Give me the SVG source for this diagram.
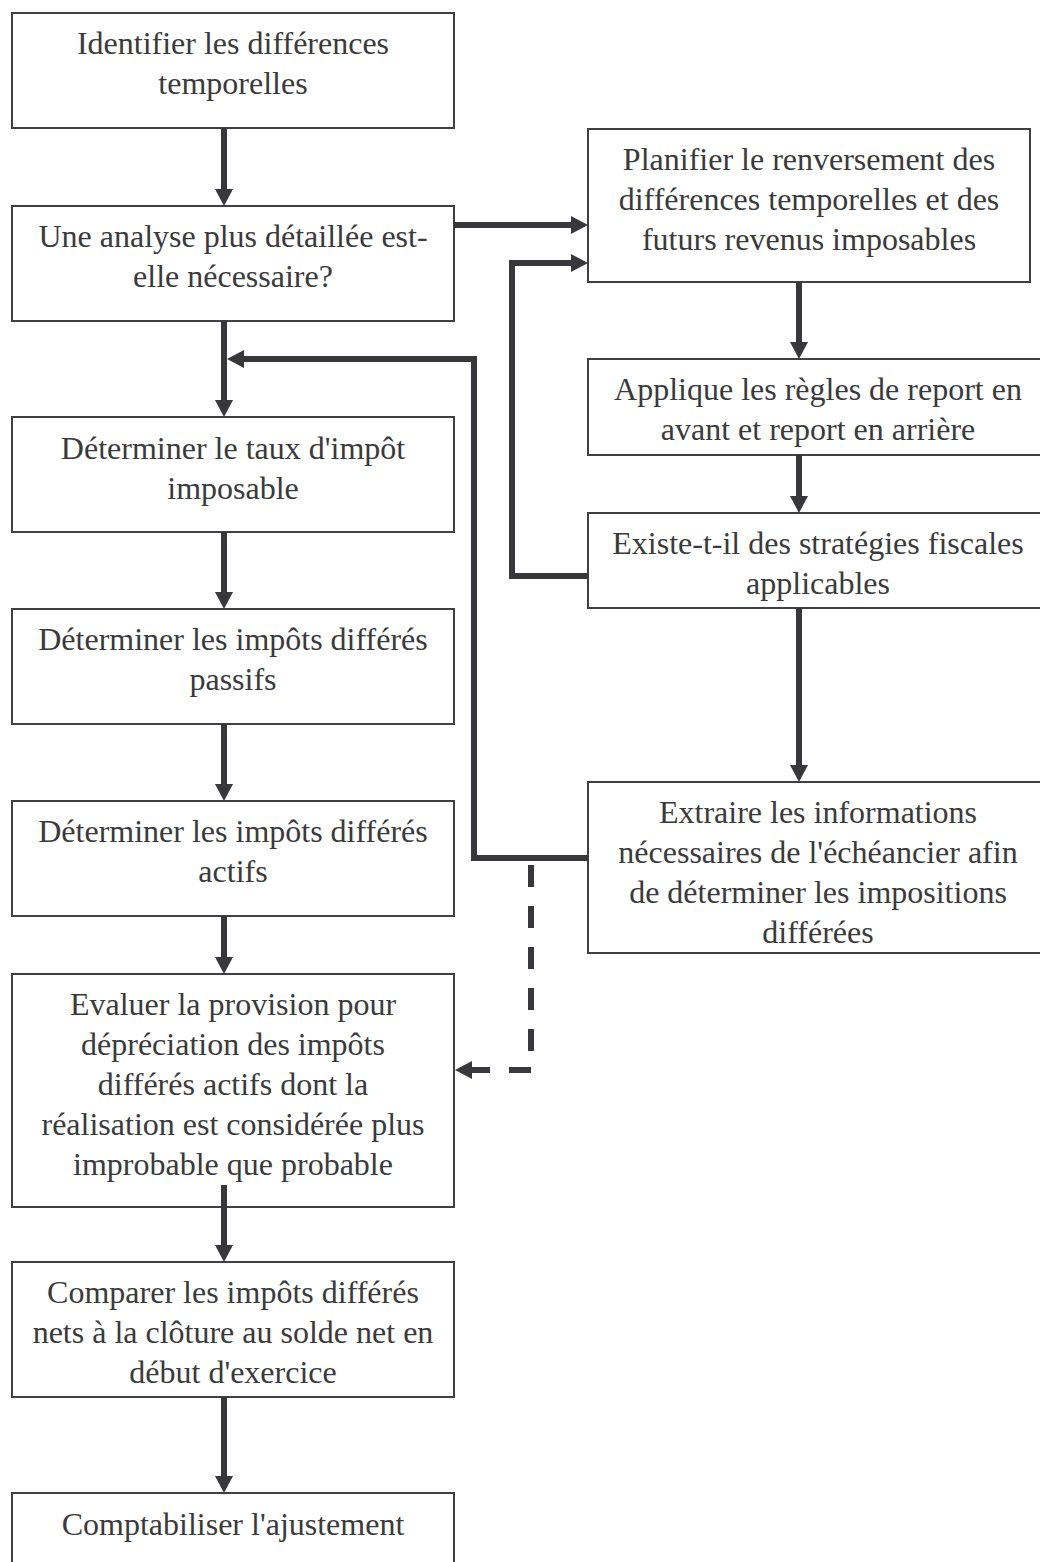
<svg xmlns="http://www.w3.org/2000/svg" width="1040" height="1562" viewBox="0 0 1040 1562">
  <defs>
    <style>
      .box { fill: #ffffff; stroke: #404042; stroke-width: 2; }
      .lbl { font-family: "Liberation Serif", "Times New Roman", serif; font-size: 32px; fill: #3a3a3c; text-anchor: middle; }
      .flow { fill: none; stroke: #38383c; stroke-width: 6; stroke-linejoin: miter; }
      .dash { stroke-dasharray: 22 19; }
    </style>
    <!-- arrowhead: base sits on the line end, tip points forward -->
    <marker id="head" viewBox="0 0 17 18" refX="0" refY="9" markerWidth="17" markerHeight="18" markerUnits="userSpaceOnUse" orient="auto">
      <path d="M0,0 L17,9 L0,18 Z" fill="#38383c"/>
    </marker>
  </defs>

  <rect width="1040" height="1562" fill="#ffffff"/>

  <!-- left column nodes -->
  <g id="n-identifier">
    <rect class="box" x="12" y="13" width="442" height="115"/>
    <text class="lbl" x="233" y="54">Identifier les différences</text>
    <text class="lbl" x="233" y="94">temporelles</text>
  </g>
  <g id="n-analyse">
    <rect class="box" x="12" y="206" width="442" height="115"/>
    <text class="lbl" x="233" y="247">Une analyse plus détaillée est-</text>
    <text class="lbl" x="233" y="287">elle nécessaire?</text>
  </g>
  <g id="n-taux">
    <rect class="box" x="12" y="417" width="442" height="115"/>
    <text class="lbl" x="233" y="459">Déterminer le taux d'impôt</text>
    <text class="lbl" x="233" y="499">imposable</text>
  </g>
  <g id="n-passifs">
    <rect class="box" x="12" y="609" width="442" height="115"/>
    <text class="lbl" x="233" y="650">Déterminer les impôts différés</text>
    <text class="lbl" x="233" y="690">passifs</text>
  </g>
  <g id="n-actifs">
    <rect class="box" x="12" y="801" width="442" height="115"/>
    <text class="lbl" x="233" y="842">Déterminer les impôts différés</text>
    <text class="lbl" x="233" y="882">actifs</text>
  </g>
  <g id="n-evaluer">
    <rect class="box" x="12" y="974" width="442" height="233"/>
    <text class="lbl" x="233" y="1015">Evaluer la provision pour</text>
    <text class="lbl" x="233" y="1055">dépréciation des impôts</text>
    <text class="lbl" x="233" y="1095">différés actifs dont la</text>
    <text class="lbl" x="233" y="1135">réalisation est considérée plus</text>
    <text class="lbl" x="233" y="1175">improbable que probable</text>
  </g>
  <g id="n-comparer">
    <rect class="box" x="12" y="1262" width="442" height="135"/>
    <text class="lbl" x="233" y="1303">Comparer les impôts différés</text>
    <text class="lbl" x="233" y="1343">nets à la clôture au solde net en</text>
    <text class="lbl" x="233" y="1383">début d'exercice</text>
  </g>
  <g id="n-comptabiliser">
    <rect class="box" x="12" y="1493" width="442" height="115"/>
    <text class="lbl" x="233" y="1535">Comptabiliser l'ajustement</text>
  </g>

  <!-- right column nodes -->
  <g id="n-planifier">
    <rect class="box" x="588" y="129" width="442" height="153"/>
    <text class="lbl" x="809" y="170">Planifier le renversement des</text>
    <text class="lbl" x="809" y="210">différences temporelles et des</text>
    <text class="lbl" x="809" y="250">futurs revenus imposables</text>
  </g>
  <g id="n-applique">
    <rect class="box" x="588" y="359" width="462" height="96"/>
    <text class="lbl" x="818" y="400">Applique les règles de report en</text>
    <text class="lbl" x="818" y="440">avant et report en arrière</text>
  </g>
  <g id="n-existe">
    <rect class="box" x="588" y="513" width="462" height="95"/>
    <text class="lbl" x="818" y="554">Existe-t-il des stratégies fiscales</text>
    <text class="lbl" x="818" y="594">applicables</text>
  </g>
  <g id="n-extraire">
    <rect class="box" x="588" y="782" width="462" height="171"/>
    <text class="lbl" x="818" y="823">Extraire les informations</text>
    <text class="lbl" x="818" y="863">nécessaires de l'échéancier afin</text>
    <text class="lbl" x="818" y="903">de déterminer les impositions</text>
    <text class="lbl" x="818" y="943">différées</text>
  </g>

  <!-- connectors, drawn over the boxes -->
  <g id="connectors">
    <!-- left column, top to bottom -->
    <path class="flow" d="M224,128 V189" marker-end="url(#head)"/>
    <path class="flow" d="M224,321 V400" marker-end="url(#head)"/>
    <path class="flow" d="M224,532 V592" marker-end="url(#head)"/>
    <path class="flow" d="M224,724 V784" marker-end="url(#head)"/>
    <path class="flow" d="M224,916 V957" marker-end="url(#head)"/>
    <path class="flow" d="M224,1185 V1245" marker-end="url(#head)"/>
    <path class="flow" d="M224,1397 V1476" marker-end="url(#head)"/>
    <!-- branch to the right column -->
    <path class="flow" d="M454,225 H571" marker-end="url(#head)"/>
    <!-- right column, top to bottom -->
    <path class="flow" d="M799,282 V342" marker-end="url(#head)"/>
    <path class="flow" d="M799,455 V496" marker-end="url(#head)"/>
    <path class="flow" d="M799,608 V765" marker-end="url(#head)"/>
    <!-- loop back from tax strategies to planning -->
    <path class="flow" d="M588,576 H512 V263 H571" marker-end="url(#head)"/>
    <!-- return from schedule extraction to main column -->
    <path class="flow" d="M588,858 H474 V359 H244" marker-end="url(#head)"/>
    <!-- dashed link to valuation allowance -->
    <path class="flow dash" d="M531,865 V1070 H472" marker-end="url(#head)"/>
  </g>
</svg>
